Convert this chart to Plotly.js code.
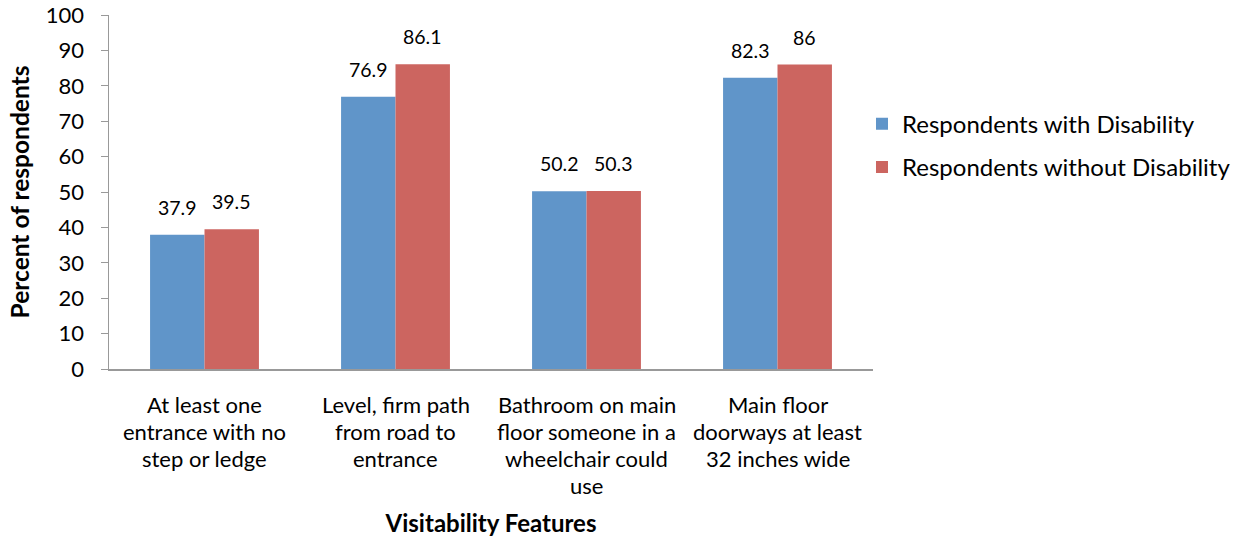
<!DOCTYPE html>
<html><head><meta charset="utf-8">
<script src="https://cdn.plot.ly/plotly-3.0.1.min.js"></script>
<style>body{margin:0;background:#fff}#c{width:1243px;height:539px}</style>
</head><body><div id="c"></div>
<script>
const categories = [
  "At least one<br>entrance with no<br>step or ledge",
  "Level, firm path<br>from road to<br>entrance",
  "Bathroom on main<br>floor someone in a<br>wheelchair could<br>use",
  "Main floor<br>doorways at least<br>32 inches wide"
];
const withDisability = [37.9, 76.9, 50.2, 82.3];
const withoutDisability = [39.5, 86.1, 50.3, 86];
const seriesNames = ["Respondents with Disability", "Respondents without Disability"];
const colors = ["#6095c9", "#cc6560"];
const yTicks = [0,10,20,30,40,50,60,70,80,90,100];

const font = "Lato, 'Open Sans', sans-serif";
const traces = [withDisability, withoutDisability].map((vals, i) => ({
  type: 'bar', x: categories, y: vals, name: seriesNames[i],
  legendgroup: 'g' + i,
  marker: {color: colors[i], line: {width: 0}},
  hoverinfo: 'none'
}));

const annotations = [];
[withDisability, withoutDisability].forEach((vals, i) => {
  vals.forEach((v, j) => {
    annotations.push({
      x: categories[j], y: v, xref: 'x', yref: 'y',
      text: String(v), showarrow: false,
      xshift: i === 0 ? -27 : 27, yshift: 14, yanchor: 'bottom',
      font: {family: font, size: 19.5, color: '#000'}
    });
  });
});
// category labels, one line each, for Excel-like line spacing
categories.forEach(cat => {
  cat.split('<br>').forEach((line, k) => {
    annotations.push({
      x: cat, y: 0, xref: 'x', yref: 'paper',
      text: line, showarrow: false, yanchor: 'middle',
      yshift: -(35 + 27 * k),
      font: {family: font, size: 22, color: '#000'}
    });
  });
});

const layout = {
  width: 1243, height: 539,
  margin: {l: 109, r: 370, t: 15, b: 170, autoexpand: false},
  paper_bgcolor: '#fff', plot_bgcolor: '#fff',
  font: {family: font, color: '#000'},
  barmode: 'group', bargap: 0.43, bargroupgap: 0,
  xaxis: {
    showline: true, linecolor: '#999', linewidth: 1.5,
    ticks: '', showticklabels: false,
    title: {text: '<b>Visitability Features</b>', font: {size: 24, family: font}, standoff: 145},
    automargin: false
  },
  yaxis: {
    range: [0, 100], tickvals: yTicks, showgrid: false, zeroline: false,
    showline: true, linecolor: '#999', linewidth: 1.5,
    ticks: 'outside', ticklen: 7, tickcolor: '#999', ticklabelstandoff: 12,
    tickfont: {size: 22, family: font},
    title: {text: '<b>Percent of respondents</b>', font: {size: 24.5, family: font}, standoff: 9},
    automargin: false
  },
  legend: {
    x: 0.9856, y: 0.755, xanchor: 'left', yanchor: 'top',
    font: {size: 24, family: font}, traceorder: 'grouped', tracegroupgap: 9,
    itemwidth: 30
  },
  annotations: annotations,
  showlegend: true
};
Plotly.newPlot('c', traces, layout, {staticPlot: true});
</script></body></html>
